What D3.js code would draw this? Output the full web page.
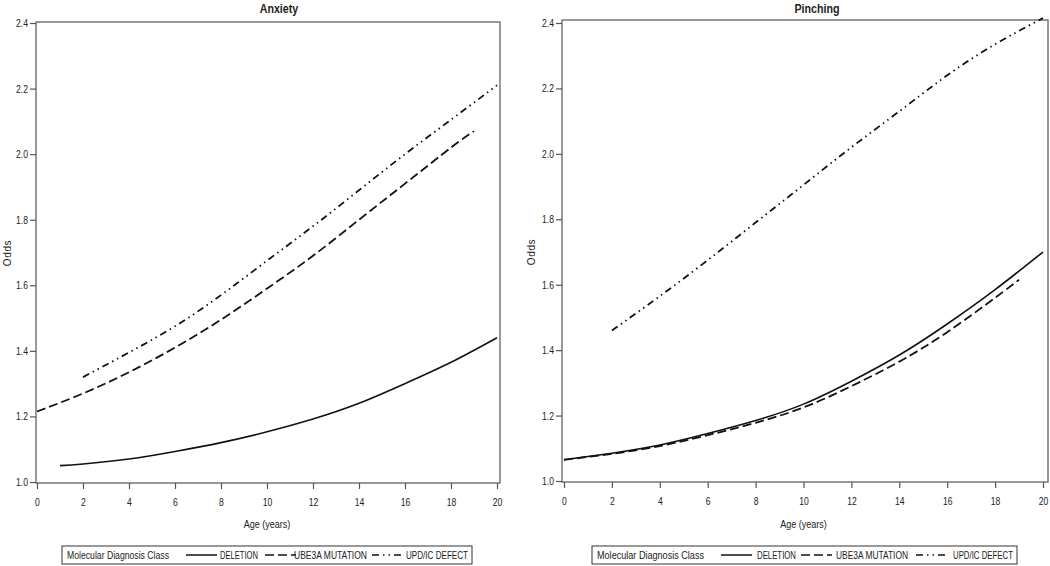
<!DOCTYPE html>
<html><head><meta charset="utf-8">
<script src="https://cdn.jsdelivr.net/npm/d3@7"></script>
<style>
body{margin:0;background:#fff;}
svg text{font-family:'Liberation Sans',Arial,sans-serif;fill:#222;}
</style></head><body>
<svg id="c" width="1050" height="566"></svg>
<script>
// ---- data ----
const xTicks = [0,2,4,6,8,10,12,14,16,18,20];
const yTicks = [1.0,1.2,1.4,1.6,1.8,2.0,2.2,2.4];
const seriesNames = ["DELETION","UBE3A MUTATION","UPD/IC DEFECT"];
const legendTitle = "Molecular Diagnosis Class";

const anxDelAges = [1,2,4,6,8,10,12,14,16,18,20];
const anxDel     = [1.05,1.055,1.07,1.093,1.12,1.153,1.192,1.24,1.30,1.365,1.44];
const anxUbeAges = [0,2,4,6,8,10,12,14,16,18,19];
const anxUbe     = [1.215,1.27,1.335,1.41,1.495,1.59,1.69,1.80,1.91,2.02,2.07];
const anxUpdAges = [2,4,6,8,10,12,14,16,18,20];
const anxUpd     = [1.32,1.395,1.475,1.57,1.675,1.78,1.89,2.0,2.105,2.21];

const pinDelAges = [0,2,4,6,8,10,12,14,16,18,20];
const pinDel     = [1.065,1.085,1.11,1.145,1.185,1.235,1.305,1.385,1.48,1.585,1.70];
const pinUbeAges = [0,2,4,6,8,10,12,14,16,18,19];
const pinUbe     = [1.065,1.083,1.107,1.14,1.178,1.225,1.29,1.365,1.455,1.56,1.615];
const pinUpdAges = [2,4,6,8,10,12,14,16,18,20];
const pinUpd     = [1.46,1.565,1.675,1.79,1.905,2.02,2.13,2.24,2.335,2.415];

const dashes = [null, "9,4", "7,4,1.5,4,1.5,4"];

const svg = d3.select("#c");

function condense(sel, k){
  sel.each(function(){
    const len = this.getComputedTextLength();
    d3.select(this).attr("textLength", len*k).attr("lengthAdjust","spacingAndGlyphs");
  });
}
function fitW(sel, w){
  sel.attr("textLength", w).attr("lengthAdjust","spacingAndGlyphs");
}

function panel(cfg){
  const g = svg.append("g");
  const x = d3.scaleLinear().domain([0,20]).range([cfg.x0, cfg.x1]);
  const y = d3.scaleLinear().domain([1.0,2.4]).range([cfg.y0, cfg.y1]);
  g.append("rect").attr("x",cfg.fl).attr("y",cfg.ft).attr("width",cfg.fr-cfg.fl).attr("height",cfg.fb-cfg.ft)
    .attr("fill","none").attr("stroke","#777").attr("stroke-width",1.5);
  const xa = g.append("g").attr("transform",`translate(0,${cfg.fb})`)
    .call(d3.axisBottom(x).tickValues(xTicks).tickSize(6).tickPadding(4).tickFormat(d3.format("d")));
  const ya = g.append("g").attr("transform",`translate(${cfg.fl},0)`)
    .call(d3.axisLeft(y).tickValues(yTicks).tickSize(6).tickPadding(2).tickFormat(d3.format(".1f")));
  [xa,ya].forEach(a=>{
    a.select(".domain").remove();
    a.selectAll("line").attr("stroke","#555").attr("stroke-width",1.2);
    a.selectAll("text").attr("font-size",11).attr("fill","#333").style("font-family","'Liberation Sans',sans-serif");
    condense(a.selectAll("text"),0.78);
  });
  xa.selectAll("text").attr("dy","1.2em");
  const line = d3.line().x(d=>x(d[0])).y(d=>y(d[1])).curve(d3.curveNatural);
  cfg.series.forEach((s,i)=>{
    const p = g.append("path").datum(d3.zip(s.ages,s.vals)).attr("d",line)
      .attr("fill","none").attr("stroke","#111").attr("stroke-width",i===0?1.6:1.8);
    if(dashes[i]) p.attr("stroke-dasharray",dashes[i]);
  });
  const t = g.append("text").attr("x",cfg.tx).attr("y",13).attr("text-anchor","middle")
    .attr("font-size",13).attr("font-weight","bold").attr("fill","#111").text(cfg.title);
  condense(t,0.82);
  const a = g.append("text").attr("x",(x(0)+x(20))/2).attr("y",528).attr("text-anchor","middle")
    .attr("font-size",11).text("Age (years)");
  condense(a,0.82);
  g.append("text").attr("transform",`translate(${cfg.ox},${cfg.oy}) rotate(-90)`).attr("text-anchor","middle")
    .attr("font-size",10).style("letter-spacing","0.6px").text("Odds");
  const L = cfg.leg;
  g.append("rect").attr("x",L.x).attr("y",546).attr("width",L.w).attr("height",18)
    .attr("fill","none").attr("stroke","#333").attr("stroke-width",1);
  fitW(g.append("text").attr("x",L.x+5).attr("y",559).attr("font-size",11).text(legendTitle), L.tw);
  seriesNames.forEach((n,i)=>{
    const ln = g.append("line").attr("x1",L.s[i]).attr("x2",L.s[i]+31).attr("y1",555).attr("y2",555)
      .attr("stroke","#111").attr("stroke-width",1.5);
    if(dashes[i]) ln.attr("stroke-dasharray",dashes[i]);
    fitW(g.append("text").attr("x",L.t[i]).attr("y",559).attr("font-size",11).text(n), L.w2[i]);
  });
}

panel({x0:37,x1:497,y0:482,y1:23,fl:36,fr:500,ft:22,fb:483,tx:279,ox:11,oy:253,title:"Anxiety",
  series:[{ages:anxDelAges,vals:anxDel},{ages:anxUbeAges,vals:anxUbe},{ages:anxUpdAges,vals:anxUpd}],
  leg:{x:62,w:410,s:[186,265,372],t:[220,294,406],tw:102,w2:[38,73,62]}});
panel({x0:564,x1:1043,y0:481,y1:23,fl:562,fr:1048,ft:20,fb:482,tx:817,ox:535,oy:252,title:"Pinching",
  series:[{ages:pinDelAges,vals:pinDel},{ages:pinUbeAges,vals:pinUbe},{ages:pinUpdAges,vals:pinUpd}],
  leg:{x:592,w:425,s:[721,801,916],t:[757,836,953],tw:107,w2:[39,72,60]}});
</script></body></html>
